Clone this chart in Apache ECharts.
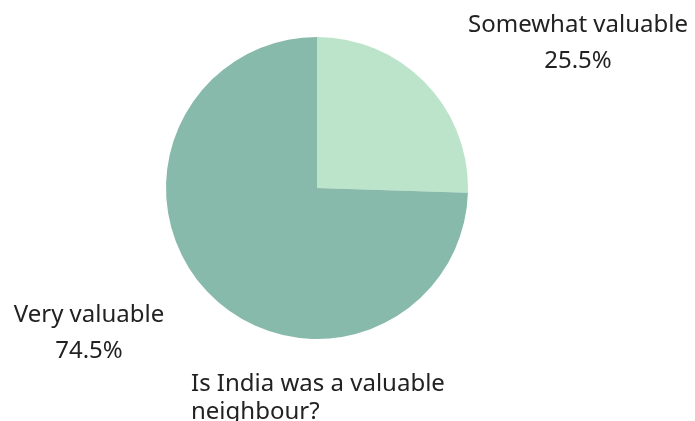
<!DOCTYPE html>
<html>
<head>
<meta charset="utf-8">
<script src="https://cdn.jsdelivr.net/npm/echarts@6/dist/echarts.min.js"></script>
<style>
  html, body { margin: 0; padding: 0; background: #fff; }
  #chart { width: 695px; height: 421px; }
</style>
</head>
<body>
<div id="chart"></div>
<script>
// Survey answers and their shares (percent)
const categories = ['Somewhat valuable', 'Very valuable'];
const shares = [25.5, 74.5];
const sliceColors = ['#bce4ca', '#88baab'];
const titleText = 'Is India was a valuable neighbour?';

// Where each answer's label sits (center of its two-line block)
const labelSpots = [
  { x: 578, y: 43 },
  { x: 89, y: 333 }
];

const chart = echarts.init(document.getElementById('chart'));
const fontFamily = '"Noto Sans", sans-serif';

chart.setOption({
  animation: false,
  title: {
    text: titleText,
    left: 186,
    top: 365,
    textStyle: {
      fontFamily: fontFamily,
      fontSize: 24,
      fontWeight: 'normal',
      color: '#222',
      width: 300,
      overflow: 'break',
      lineHeight: 28
    }
  },
  series: [{
    type: 'pie',
    center: [317, 188],
    radius: [0, 151],
    startAngle: 90,
    clockwise: true,
    data: categories.map((name, i) => ({
      name: name,
      value: shares[i],
      itemStyle: { color: sliceColors[i] }
    })),
    label: {
      show: true,
      position: 'inside',
      formatter: p => p.name + '\n' + p.value.toFixed(1) + '%',
      fontFamily: fontFamily,
      fontSize: 24,
      lineHeight: 36,
      color: '#222',
      align: 'center',
      overflow: 'none'
    },
    labelLine: { show: false },
    labelLayout: params => ({
      x: labelSpots[params.dataIndex].x,
      y: labelSpots[params.dataIndex].y,
      align: 'center',
      verticalAlign: 'middle'
    }),
    emphasis: { disabled: true }
  }]
});
</script>
</body>
</html>
